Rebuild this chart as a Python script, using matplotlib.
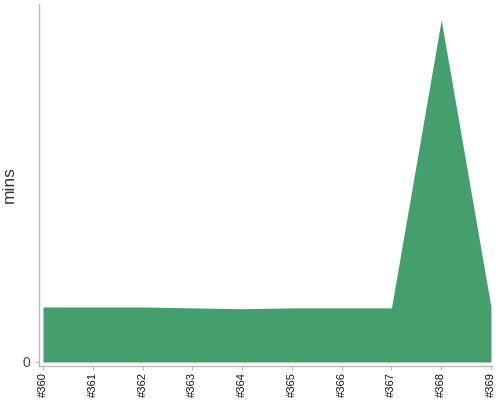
import matplotlib
matplotlib.use("Agg")
import matplotlib.pyplot as plt

plt.rcParams["font.family"] = ["Liberation Sans", "DejaVu Sans"]

# build numbers and duration in minutes
builds = [360, 361, 362, 363, 364, 365, 366, 367, 368, 369]
labels = ["#%d" % b for b in builds]
mins = [3.2, 3.2, 3.2, 3.15, 3.1, 3.15, 3.15, 3.15, 19.9, 3.2]

fig = plt.figure(figsize=(5, 4), dpi=100)
ax = fig.add_axes([39 / 500, 34 / 400, 453 / 500, 362 / 400])

ax.fill_between(builds, 0, mins, color="#459e6e", linewidth=0)

ax.set_xlim(359.92, 369.02)
ax.set_ylim(-0.233, 20.83)

ax.set_xticks(builds)
ax.set_xticklabels(labels, rotation=90, fontsize=8, color="#111111")
ax.set_yticks([0])
ax.set_yticklabels(["0"], fontsize=10, color="#444444")
ax.tick_params(axis="both", length=3, width=0.8, color="#bbbbbb")
ax.tick_params(axis="x", pad=1.5)

for s in ["top", "right"]:
    ax.spines[s].set_visible(False)
for s in ["left", "bottom"]:
    ax.spines[s].set_color("#bbbbbb")
    ax.spines[s].set_linewidth(1)

ax.set_ylabel("mins", fontsize=12.5, color="#333333", labelpad=4)

fig.savefig("out.png", dpi=100)
